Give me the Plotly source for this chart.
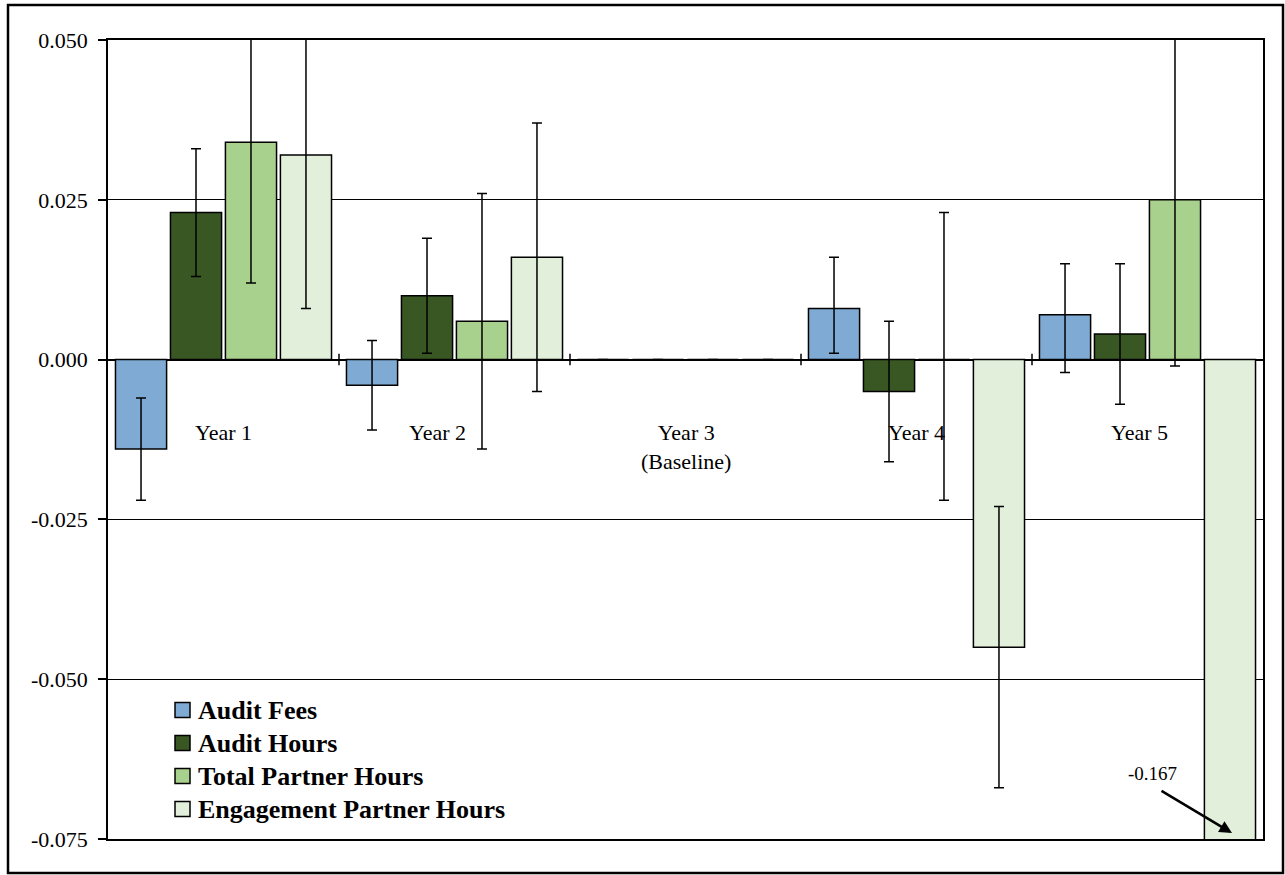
import plotly.graph_objects as go

# Relative change versus the Year 3 baseline, with 95% confidence bounds
years = ["Year 1", "Year 2", "Year 3<br>(Baseline)", "Year 4", "Year 5"]
series_names = ["Audit Fees", "Audit Hours", "Total Partner Hours", "Engagement Partner Hours"]

audit_fees = [-0.014, -0.004, 0.000, 0.008, 0.007]
audit_fees_lo = [-0.022, -0.011, None, 0.001, -0.002]
audit_fees_hi = [-0.006, 0.003, None, 0.016, 0.015]

audit_hours = [0.023, 0.010, 0.000, -0.005, 0.004]
audit_hours_lo = [0.013, 0.001, None, -0.016, -0.007]
audit_hours_hi = [0.033, 0.019, None, 0.006, 0.015]

total_partner = [0.034, 0.006, 0.000, 0.000, 0.025]
total_partner_lo = [0.012, -0.014, None, -0.022, -0.001]
total_partner_hi = [0.056, 0.026, None, 0.023, 0.051]

engagement_partner = [0.032, 0.016, 0.000, -0.045, -0.167]
engagement_partner_lo = [0.008, -0.005, None, -0.067, None]
engagement_partner_hi = [0.056, 0.037, None, -0.023, None]

y_ticks = [-0.075, -0.050, -0.025, 0.000, 0.025, 0.050]
y_tick_labels = ["-0.075", "-0.050", "-0.025", "0.000", "0.025", "0.050"]

offscale_label = "-0.167"

colors = ["#7FAAD4", "#385723", "#A9D18E", "#E2EFDA"]

values = [audit_fees, audit_hours, total_partner, engagement_partner]
lows = [audit_fees_lo, audit_hours_lo, total_partner_lo, engagement_partner_lo]
highs = [audit_fees_hi, audit_hours_hi, total_partner_hi, engagement_partner_hi]

serif = "Liberation Serif, Times New Roman, serif"

# plot area in pixels (left, right, top, bottom)
PL, PR, PT, PB = 108, 1263, 40, 839
PW, PH = PR - PL, PB - PT


def px(xp):
    return (xp - PL) / PW


def py(yp):
    return (PB - yp) / PH


fig = go.Figure()
for name, vals, lo, hi, col in zip(series_names, values, lows, highs, colors):
    plus = [None if h is None else h - v for v, h in zip(vals, hi)]
    minus = [None if l is None else v - l for v, l in zip(vals, lo)]
    fig.add_trace(go.Bar(
        name=name,
        x=list(range(len(years))),
        y=vals,
        marker=dict(color=col, line=dict(color="black", width=1.5)),
        error_y=dict(type="data", symmetric=False, array=plus, arrayminus=minus,
                     color="black", thickness=1.5, width=5),
        showlegend=False,
    ))

# Year labels sit inside the plot, just under the zero line
label_shift = [0, -17, 0, 0, -8]
for i, (lab, dx) in enumerate(zip(years, label_shift)):
    fig.add_annotation(x=i, y=-0.0091, xref="x", yref="y", text=lab,
                       showarrow=False, xanchor="center", yanchor="top", xshift=dx,
                       font=dict(family=serif, size=22, color="black"))

# Category boundary ticks crossing the zero line
for b in [0.5, 1.5, 2.5, 3.5]:
    fig.add_shape(type="line", xref="x", yref="y", x0=b, x1=b, y0=-0.0009, y1=0.0009,
                  line=dict(color="black", width=1.5))

# Legend: outlined swatches with bold labels, lower left of the plot
legend_rows = [710, 743, 776, 809]
for name, col, yc in zip(series_names, colors, legend_rows):
    fig.add_shape(type="rect", xref="paper", yref="paper",
                  x0=px(175), x1=px(190), y0=py(yc + 7.5), y1=py(yc - 7.5),
                  fillcolor=col, line=dict(color="black", width=1.5))
    fig.add_annotation(xref="paper", yref="paper", x=px(196), y=py(yc), text=name,
                       showarrow=False, xanchor="left", yanchor="middle",
                       font=dict(family=serif, size=26, color="black", weight="bold"))

# Off-scale value callout
fig.add_annotation(xref="paper", yref="paper", x=px(1232), y=py(833),
                   ax=-72, ay=-43, text="", showarrow=True, arrowhead=2, arrowsize=1,
                   arrowwidth=2.5, arrowcolor="black")
fig.add_annotation(xref="paper", yref="paper", x=px(1152), y=py(773),
                   text=offscale_label, showarrow=False, xanchor="center", yanchor="middle",
                   font=dict(family=serif, size=19, color="black"))

# Outer frame
fig.add_shape(type="rect", xref="paper", yref="paper",
              x0=px(8), x1=px(1283), y0=py(873), y1=py(5),
              line=dict(color="black", width=2.5), layer="above")

fig.update_layout(
    width=1285, height=875,
    margin=dict(l=PL, r=1285 - PR, t=PT, b=875 - PB),
    paper_bgcolor="white", plot_bgcolor="white",
    barmode="group", bargap=0.048, bargroupgap=0.07,
    font=dict(family=serif, color="black"),
    showlegend=False,
    xaxis=dict(range=[-0.5, 4.5], showticklabels=False, ticks="", showgrid=False,
               zeroline=False, showline=True, mirror=True, linecolor="black", linewidth=1.5),
    yaxis=dict(range=[-0.075, 0.050], tickvals=y_ticks, ticktext=y_tick_labels,
               ticks="outside", ticklen=8, tickcolor="black", tickwidth=1.5,
               showgrid=True, gridcolor="black", gridwidth=1.2,
               zeroline=True, zerolinecolor="black", zerolinewidth=1.5,
               showline=True, mirror=True, linecolor="black", linewidth=1.5,
               tickfont=dict(family=serif, size=22, color="black"),
               ticklabelstandoff=6),
)

fig.write_html("out.html")
